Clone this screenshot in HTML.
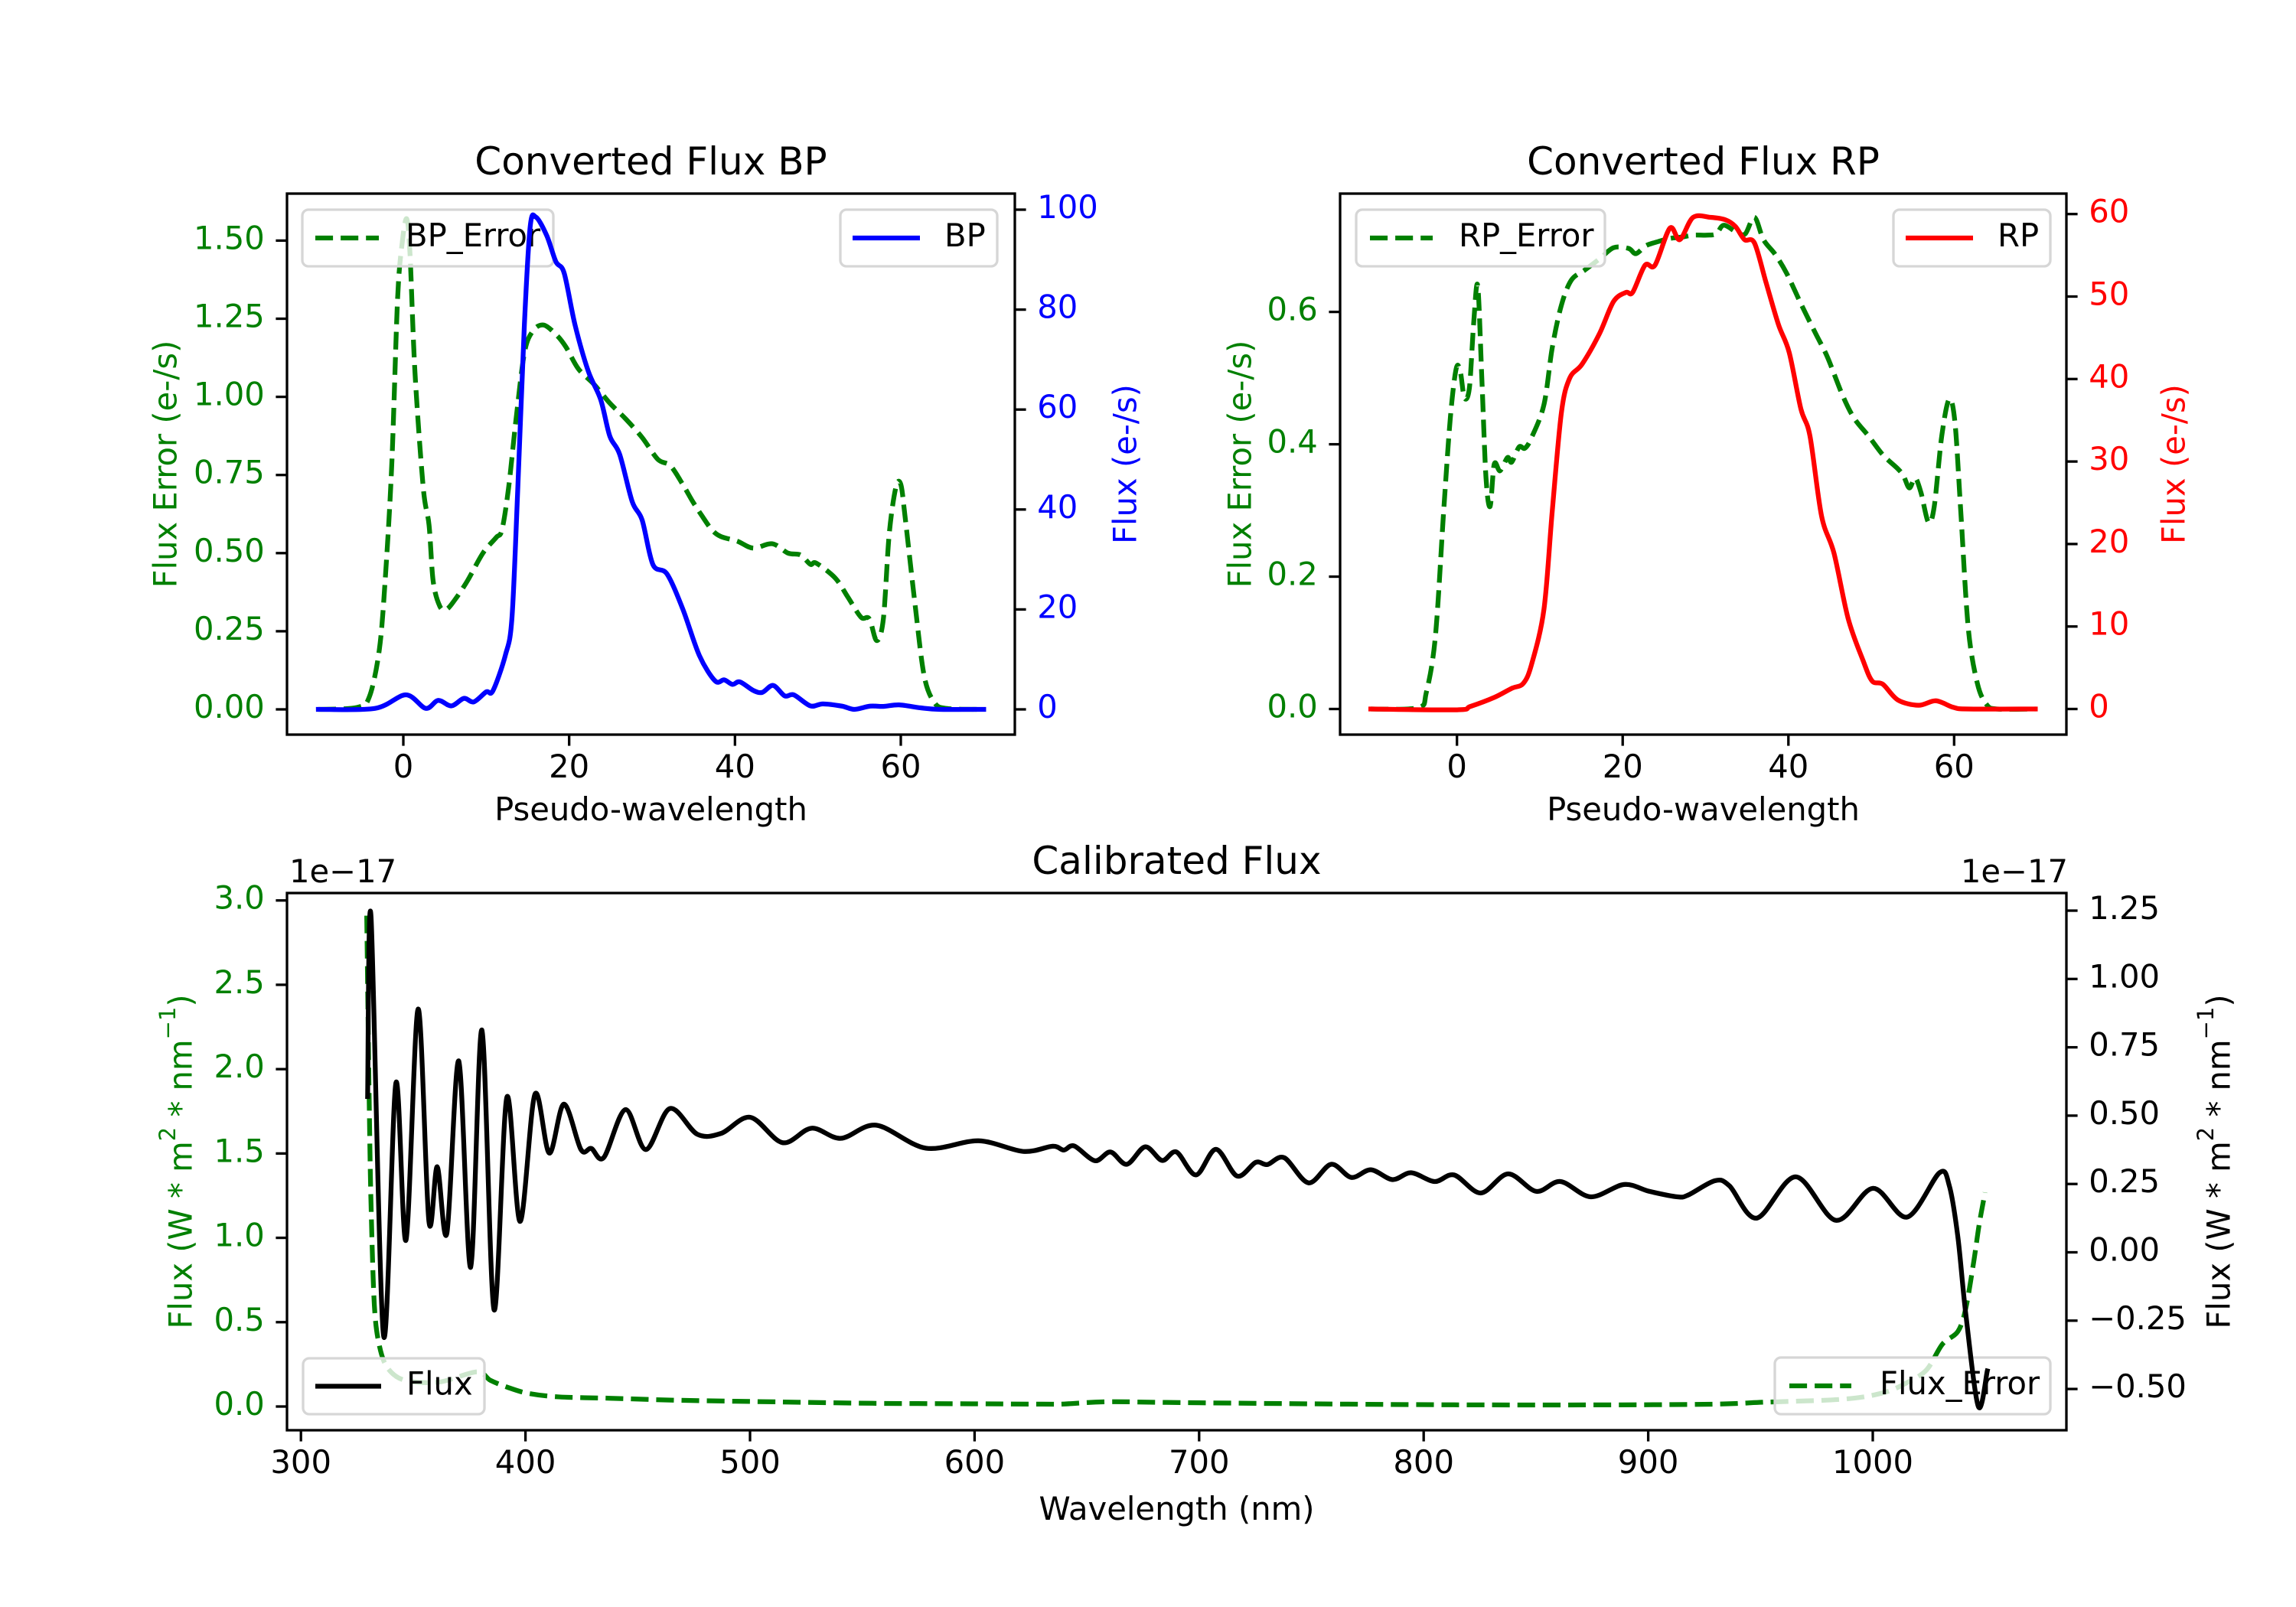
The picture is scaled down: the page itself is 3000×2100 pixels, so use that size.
<!DOCTYPE html>
<html>
<head>
<meta charset="utf-8">
<style>
  html,body{margin:0;padding:0;background:#fff;}
  svg{display:block;}
  text{font-family:"DejaVu Sans","Liberation Sans",sans-serif;}
</style>
</head>
<body>
<svg id="fig" xmlns="http://www.w3.org/2000/svg" width="3000" height="2100" viewBox="0 0 3000 2100">
  <rect x="0" y="0" width="3000" height="2100" fill="#ffffff"/>
</svg>
<script>
// ---------- DATA ----------
const bpX    = [-10.25,-3.4,0.3,2.7,4.2,5.8,7.3,8.5,10,10.8,12.3,13.1,13.8,14.6,15.3,16,17.3,18.4,19.4,20.7,22.3,23.8,24.9,26.1,27.6,28.8,30.1,31.8,33.7,35.7,37.6,38.7,39.7,40.6,42.2,43.3,44.6,46,47.1,49.1,50.6,52.9,54.4,56.3,57.9,59.8,62.4,64.7,70];
const bpFlux = [0,0.2,2.9,0.2,1.8,0.7,2.2,1.5,3.5,3.7,10.8,18.3,44,77,96.6,98.5,94.8,89.6,87.3,77,67.7,62,54.7,51,41.6,37.9,29,27.1,20.1,10.8,5.7,5.9,5,5.5,3.8,3.4,4.8,2.7,2.9,0.7,1.1,0.65,0,0.65,0.6,0.9,0.3,0,0];
const bpErrX = [-10.25,-5.6,-4.1,-2.9,-2.2,-1.4,-0.7,-0.15,0.4,0.8,1.4,2.4,3.1,3.6,4.4,5.2,6.2,7.7,9.6,11.2,11.9,12.7,13.6,14.6,15.6,16.9,18.4,19.6,21.1,23,24.9,26.8,28.8,30.7,32.2,33.7,34.9,36,37.2,38.3,40.3,42.2,44.5,46.4,47.9,49.1,49.8,52.1,53.6,55.2,56.2,57.1,57.9,58.6,59.4,60,60.5,61.7,62.8,64,65.5,70];
const bpErr  = [0,0.006,0.04,0.19,0.41,0.78,1.31,1.49,1.57,1.46,1.08,0.71,0.59,0.41,0.33,0.32,0.35,0.41,0.50,0.55,0.575,0.71,0.93,1.14,1.21,1.23,1.20,1.16,1.09,1.04,0.98,0.93,0.87,0.80,0.78,0.72,0.665,0.62,0.575,0.553,0.538,0.516,0.53,0.50,0.494,0.464,0.468,0.42,0.36,0.295,0.29,0.22,0.29,0.56,0.71,0.72,0.62,0.34,0.11,0.024,0.003,0];

const rpX    = [-10.4,0,1.6,4.5,6.6,8,9,10.5,11.5,12.6,13.6,15.1,17.2,18.9,20.4,21.2,22.7,23.9,25.7,26.9,28.5,30.6,32.4,33.6,34.7,35.9,37.3,38.8,40.1,41.5,42.6,44,45.5,47.2,49,50.1,51.4,53.2,55.7,57.8,59.9,61.7,69.8];
const rpFlux = [0,-0.1,0.3,1.4,2.5,3.1,5.4,12.1,24,35.9,40.1,41.8,45.5,49.4,50.5,50.5,53.8,53.8,58.3,56.9,59.6,59.6,59.3,58.5,56.9,56.5,51.7,46.6,43.2,36.4,33.1,23.4,18.9,11,5.9,3.4,3,1.1,0.45,1,0.2,0,0];
const rpErrX = [-10.4,-4.7,-3.7,-2.6,-1.6,-0.8,-0.1,0.4,0.9,1.5,2,2.5,3,3.5,4,4.5,5.2,6.1,6.6,7.5,8.2,9,10.5,11.5,12.6,13.8,15.4,17.2,18.9,20.7,21.6,22.8,24.2,25.7,27.1,28.5,30.2,31.3,32.2,33.8,34.8,35.9,37,38.4,39.8,41.6,43.3,44.7,46.5,47.9,49.7,51.4,53.2,53.9,54.6,55.3,56,56.9,57.6,58.5,59.4,60.1,60.8,61.7,62.8,63.9,65.2,69.8];
const rpErr  = [0,0.002,0.025,0.11,0.30,0.44,0.514,0.51,0.47,0.485,0.58,0.64,0.50,0.35,0.306,0.37,0.36,0.38,0.373,0.396,0.394,0.41,0.46,0.546,0.61,0.648,0.663,0.68,0.697,0.696,0.688,0.70,0.706,0.711,0.713,0.716,0.716,0.718,0.731,0.72,0.718,0.743,0.709,0.687,0.658,0.61,0.567,0.532,0.475,0.44,0.412,0.384,0.363,0.352,0.334,0.349,0.327,0.282,0.306,0.412,0.468,0.433,0.299,0.123,0.039,0.007,0,0];

const calX    = [329.7,331.2,336.8,342.3,346.8,352.2,357.0,360.7,365.0,370.3,375.6,380.6,386.0,391.7,397.6,404.2,410.6,417.1,424.7,429.3,434.9,444.5,453.6,464.3,476.5,487.1,500.1,514.5,527.4,540.4,556.2,578.3,601.8,621.7,634.8,639.7,644.4,653.6,660.5,667.8,676.0,683.5,689.9,698.6,707.5,716.9,725.2,730.4,737.9,748.7,758.8,767.8,776.5,786.1,794.4,804.9,813.6,825.4,837.6,850.1,860.9,874.4,889.2,900.5,913.0,917.9,929.7,936.2,948.3,965.7,983.6,1000.1,1015.3,1029.7,1034.1,1037.9,1041.4,1047.0,1051.0];
const calFlux = [0.57,1.23,-0.305,0.62,0.045,0.89,0.113,0.313,0.07,0.70,-0.055,0.813,-0.21,0.567,0.113,0.578,0.363,0.542,0.376,0.38,0.347,0.522,0.376,0.526,0.432,0.435,0.494,0.401,0.454,0.417,0.465,0.381,0.408,0.369,0.388,0.374,0.389,0.335,0.367,0.322,0.386,0.336,0.367,0.283,0.377,0.279,0.329,0.321,0.346,0.254,0.322,0.274,0.302,0.266,0.291,0.259,0.283,0.217,0.287,0.223,0.259,0.203,0.248,0.223,0.203,0.21,0.262,0.243,0.125,0.276,0.117,0.234,0.129,0.291,0.243,0.056,-0.224,-0.564,-0.434];
const calErrX = [329.3,330.4,331.2,332.7,335,338.8,346.4,361.6,378.3,384.4,392,401.2,414.9,437.7,468.1,513.8,554.5,600,630,640,660,700,813.5,918,952.6,987.4,1004.8,1015.3,1024,1031,1037.9,1041.4,1044.9,1047.4,1050];
const calErr  = [2.91,1.815,1.21,0.60,0.357,0.225,0.155,0.145,0.205,0.155,0.114,0.078,0.057,0.049,0.037,0.027,0.019,0.016,0.014,0.015,0.028,0.022,0.01,0.012,0.026,0.044,0.082,0.142,0.218,0.369,0.445,0.581,0.853,1.08,1.269];

const tlXTicks = [0,20,40,60];
const tlYLTicks = [0,0.25,0.5,0.75,1.0,1.25,1.5];
const tlYLLabels = ["0.00","0.25","0.50","0.75","1.00","1.25","1.50"];
const tlYRTicks = [0,20,40,60,80,100];
const trXTicks = [0,20,40,60];
const trYLTicks = [0,0.2,0.4,0.6];
const trYLLabels = ["0.0","0.2","0.4","0.6"];
const trYRTicks = [0,10,20,30,40,50,60];
const bXTicks = [300,400,500,600,700,800,900,1000];
const bYLTicks = [0,0.5,1.0,1.5,2.0,2.5,3.0];
const bYLLabels = ["0.0","0.5","1.0","1.5","2.0","2.5","3.0"];
const bYRTicks = [-0.5,-0.25,0,0.25,0.5,0.75,1.0,1.25];
const bYRLabels = ["\u22120.50","\u22120.25","0.00","0.25","0.50","0.75","1.00","1.25"];

// ---------- HELPERS ----------
const NS = "http://www.w3.org/2000/svg";
const svg = document.getElementById('fig');
function mk(tag, attrs, parent){
  const e = document.createElementNS(NS, tag);
  for (const k in attrs) e.setAttribute(k, attrs[k]);
  (parent||svg).appendChild(e);
  return e;
}
function lin(p0,p1,d0,d1){ return v => p0 + (v-d0)*(p1-p0)/(d1-d0); }
function smoothPath(xs, ys){
  let d = "M" + xs[0].toFixed(2) + "," + ys[0].toFixed(2);
  const n = xs.length;
  for (let i=0;i<n-1;i++){
    const x0 = xs[Math.max(i-1,0)], y0 = ys[Math.max(i-1,0)];
    const x1 = xs[i], y1 = ys[i], x2 = xs[i+1], y2 = ys[i+1];
    const x3 = xs[Math.min(i+2,n-1)], y3 = ys[Math.min(i+2,n-1)];
    const t = 0.16;
    const c1x = x1 + (x2-x0)*t, c1y = y1 + (y2-y0)*t;
    const c2x = x2 - (x3-x1)*t, c2y = y2 - (y3-y1)*t;
    d += " C" + c1x.toFixed(2)+","+c1y.toFixed(2)+" "+c2x.toFixed(2)+","+c2y.toFixed(2)+" "+x2.toFixed(2)+","+y2.toFixed(2);
  }
  return d;
}
const FS = 41.7, TL = 14.6, TW = 3.3;

function drawSeries(xArr, yArr, sx, sy, color, dashed, name){
  const p = mk('path', {d: smoothPath(xArr.map(sx), yArr.map(sy)), fill:'none', stroke:color, 'stroke-width':6.25,
    'stroke-linejoin':'round', 'stroke-linecap': dashed ? 'butt':'square', 'stroke-dasharray': dashed ? '23.1 10' : 'none'});
  
  
  return p;
}
function drawLegend(x0,x1,y0,y1,hx0,hx1,tx,label,color,dashed,name){
  const g = mk('g', {});
  
  
  const r = mk('rect', {x:x0,y:y0,width:x1-x0,height:y1-y0,rx:8,ry:8,fill:'#ffffff','fill-opacity':0.8,stroke:'#d6d6d6','stroke-width':3.3}, g);
  
  
  const cy = (y0+y1)/2;
  const h = mk('line', {x1:hx0,x2:hx1,y1:cy,y2:cy,stroke:color,'stroke-width':6.25,'stroke-dasharray': dashed ? '23.1 10':'none'}, g);
  
  
  const t = mk('text', {x:tx,y:cy+11,'font-size':FS,fill:'#000'}, g);
  t.textContent = label;
  
  
}
function xTicks(ticks, labels, sx, yBottom, name){
  ticks.forEach((v,i)=>{
    const x = sx(v);
    const l = mk('line', {x1:x,x2:x,y1:yBottom,y2:yBottom+TL,stroke:'#000','stroke-width':TW});
    
    
    const t = mk('text', {x:x,y:yBottom+TL+14.6+27,'font-size':FS,'text-anchor':'middle',fill:'#000'});
    t.textContent = labels[i];
    
    
  });
}
function yTicks(ticks, labels, sy, xEdge, side, color, name){
  ticks.forEach((v,i)=>{
    const y = sy(v);
    const dir = side==='left' ? -1 : 1;
    const l = mk('line', {x1:xEdge,x2:xEdge+dir*TL,y1:y,y2:y,stroke:'#000','stroke-width':TW});
    
    
    const t = mk('text', {x:xEdge+dir*(TL+14.6),y:y+11,'font-size':FS,'text-anchor': side==='left'?'end':'start',fill:color});
    t.textContent = labels[i];
    
    
  });
}
function frame(x0,x1,y0,y1,name){
  const r = mk('rect', {x:x0,y:y0,width:x1-x0,height:y1-y0,fill:'none',stroke:'#000','stroke-width':TW});
  
  
}
function label(txt,x,y,size,color,rot,name,anchor){
  const t = mk('text', {x:x,y:y,'font-size':size,fill:color,'text-anchor':anchor||'middle'});
  if (rot) { t.setAttribute('transform','rotate(-90 '+x+' '+y+')'); t.setAttribute('dominant-baseline','central'); }
  t.textContent = txt;
  
  
  return t;
}

// ---------- TOP-LEFT: BP ----------
{
  const L=375, R=1326, T=253, B=960;
  const sx = lin(527,1177,0,60), syL = lin(927,314.4,0,1.5), syR = lin(927,274,0,100);
  drawSeries(bpErrX, bpErr, sx, syL, '#008000', true, 'bp-error-line');
  drawLegend(395,723,274,348,412,495,530,'BP_Error','#008000',true,'bp-error-legend');
  drawSeries(bpX, bpFlux, sx, syR, '#0000ff', false, 'bp-flux-line');
  drawLegend(1098,1303,274,348,1114,1202,1234,'BP','#0000ff',false,'bp-legend');
  frame(L,R,T,B,'bp-axes-frame');
  xTicks(tlXTicks, tlXTicks.map(String), sx, B, 'bp-x-axis');
  yTicks(tlYLTicks, tlYLLabels, syL, L, 'left', '#008000', 'bp-left-y-axis');
  yTicks(tlYRTicks, tlYRTicks.map(String), syR, R, 'right', '#0000ff', 'bp-right-y-axis');
  label('Converted Flux BP', (L+R)/2, 228, 50, '#000', false, 'bp-title');
  label('Pseudo-wavelength', (L+R)/2, 1072, FS, '#000', false, 'bp-x-axis-title');
  label('Flux Error (e-/s)', 216, (T+B)/2, FS, '#008000', true, 'bp-left-y-axis-title');
  label('Flux (e-/s)', 1470, (T+B)/2, FS, '#0000ff', true, 'bp-right-y-axis-title');
}
// ---------- TOP-RIGHT: RP ----------
{
  const L=1751, R=2700, T=253, B=960;
  const sx = lin(1903.7,2553.3,0,60), syL = lin(926.5,407.6,0,0.6), syR = lin(926.5,279.7,0,60);
  drawSeries(rpErrX, rpErr, sx, syL, '#008000', true, 'rp-error-line');
  drawLegend(1772,2097,274,348,1790,1872,1906,'RP_Error','#008000',true,'rp-error-legend');
  drawSeries(rpX, rpFlux, sx, syR, '#ff0000', false, 'rp-flux-line');
  drawLegend(2474,2679,274,348,2490,2578,2610,'RP','#ff0000',false,'rp-legend');
  frame(L,R,T,B,'rp-axes-frame');
  xTicks(trXTicks, trXTicks.map(String), sx, B, 'rp-x-axis');
  yTicks(trYLTicks, trYLLabels, syL, L, 'left', '#008000', 'rp-left-y-axis');
  yTicks(trYRTicks, trYRTicks.map(String), syR, R, 'right', '#ff0000', 'rp-right-y-axis');
  label('Converted Flux RP', (L+R)/2, 228, 50, '#000', false, 'rp-title');
  label('Pseudo-wavelength', (L+R)/2, 1072, FS, '#000', false, 'rp-x-axis-title');
  label('Flux Error (e-/s)', 1620, (T+B)/2, FS, '#008000', true, 'rp-left-y-axis-title');
  label('Flux (e-/s)', 2840, (T+B)/2, FS, '#ff0000', true, 'rp-right-y-axis-title');
}
// ---------- BOTTOM: Calibrated ----------
{
  const L=375, R=2700, T=1167, B=1869;
  const sx = lin(393.2,2447,300,1000), syL = lin(1838,1176.7,0,3.0), syR = lin(1636.5,1190,0,1.25);
  drawSeries(calErrX, calErr, sx, syL, '#008000', true, 'calibrated-error-line');
  drawLegend(2319,2679,1774,1848,2338,2419,2456,'Flux_Error','#008000',true,'calibrated-error-legend');
  drawSeries(calX, calFlux, sx, syR, '#000000', false, 'calibrated-flux-line');
  drawLegend(396,633,1775,1848,412,498,531,'Flux','#000000',false,'calibrated-flux-legend');
  frame(L,R,T,B,'calibrated-axes-frame');
  xTicks(bXTicks, bXTicks.map(String), sx, B, 'calibrated-x-axis');
  yTicks(bYLTicks, bYLLabels, syL, L, 'left', '#008000', 'calibrated-left-y-axis');
  yTicks(bYRTicks, bYRLabels, syR, R, 'right', '#000000', 'calibrated-right-y-axis');
  label('Calibrated Flux', (L+R)/2, 1142, 50, '#000', false, 'calibrated-title');
  label('Wavelength (nm)', (L+R)/2, 1986, FS, '#000', false, 'calibrated-x-axis-title');
  label('1e\u221217', 378, 1153, FS, '#000', false, 'left-offset-text', 'start');
  label('1e\u221217', 2702, 1153, FS, '#000', false, 'right-offset-text', 'end');
  const mkY = (x, color, name) => {
    const t = label('', x, (T+B)/2, FS, color, true, name);
    t.appendChild(document.createTextNode('Flux (W * m'));
    const s1 = mk('tspan', {'baseline-shift':'super','font-size':29}, t); s1.textContent='2';
    t.appendChild(document.createTextNode(' * nm'));
    const s2 = mk('tspan', {'baseline-shift':'super','font-size':29}, t); s2.textContent='\u22121';
    t.appendChild(document.createTextNode(')'));
  };
  mkY(236, '#008000', 'calibrated-left-y-axis-title');
  mkY(2899, '#000000', 'calibrated-right-y-axis-title');
}
</script>
</body>
</html>
